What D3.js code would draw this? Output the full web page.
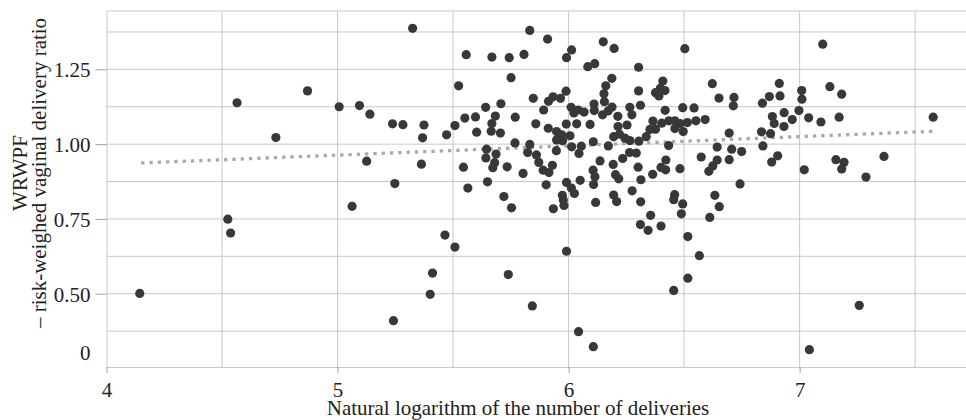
<!DOCTYPE html>
<html lang="en">
<head>
  <meta charset="UTF-8">
  <title>WRWPF vs log deliveries</title>
  <script src="https://d3js.org/d3.v7.min.js"></script>
  <style>
    body { margin: 0; background: #fff; }
    svg { display: block; }
    text { font-family: "Liberation Serif", "Times New Roman", serif; fill: #222; }
    .grid line { stroke: #c8c8c8; stroke-width: 1; }
    .axis path { stroke: #c8c8c8; }
    .axis line { stroke: #a0a0a0; }
    .axis text { font-size: 21px; }
    .title { font-size: 21px; }
  </style>
</head>
<body>
  <svg id="chart"></svg>
  <script>
    // x: natural log of deliveries, y: WRWPF
    const lnDeliveries = [
      4.144, 5.325, 5.557, 5.668, 5.743, 5.807, 5.832, 5.751, 5.524, 4.565,
      4.870, 5.007, 5.095, 5.140, 5.238, 5.283, 5.374, 5.368, 5.472, 5.508,
      5.551, 5.597, 5.641, 5.707, 5.683, 5.668, 5.665, 5.602, 5.705, 5.769,
      5.768, 4.733, 5.126, 5.363, 5.248, 5.545, 5.645, 5.642, 5.686, 5.680,
      5.672, 5.734, 5.803, 5.649, 5.564, 5.720, 5.823, 5.753, 5.063, 4.525,
      4.537, 5.465, 5.508, 5.411, 5.401, 5.739, 5.242, 5.843, 5.909, 6.013,
      5.991, 6.083, 6.113, 6.150, 5.847, 5.913, 5.933, 5.965, 5.989, 6.161,
      6.153, 6.155, 5.892, 5.858, 5.912, 5.948, 5.970, 5.990, 6.006, 6.011,
      6.023, 6.042, 6.067, 6.035, 6.093, 6.110, 6.111, 6.147, 6.107, 6.197,
      6.303, 6.503, 7.100, 6.187, 6.408, 6.397, 6.376, 6.391, 6.417, 6.303,
      6.622, 6.651, 6.716, 6.713, 6.912, 6.869, 6.915, 6.839, 7.009, 7.010,
      7.131, 7.182, 7.578, 6.171, 6.213, 6.188, 6.265, 6.274, 6.311, 6.214,
      6.253, 6.195, 6.220, 6.244, 6.265, 6.304, 6.336, 6.352, 6.365, 6.376,
      6.403, 6.434, 6.460, 6.483, 6.460, 6.496, 6.514, 6.494, 6.543, 6.551,
      6.591, 6.418, 5.832, 5.861, 5.871, 5.890, 5.915, 5.930, 5.947, 5.948,
      5.974, 6.013, 6.045, 6.055, 6.136, 6.106, 6.114, 6.108, 6.172, 6.193,
      6.203, 6.217, 6.234, 6.264, 6.293, 6.301, 6.313, 6.364, 6.400, 6.420,
      6.421, 6.433, 6.482, 6.459, 6.455, 6.494, 6.488, 6.516, 6.566, 6.516,
      6.455, 6.574, 6.607, 6.624, 6.643, 6.643, 6.695, 6.706, 6.695, 6.749,
      6.742, 6.633, 6.652, 6.611, 6.835, 6.874, 6.841, 6.905, 6.879, 6.882,
      6.890, 6.933, 6.932, 6.968, 6.997, 7.039, 7.092, 7.171, 7.020, 7.157,
      7.192, 7.182, 7.287, 7.365, 5.903, 5.973, 5.977, 5.980, 5.934, 5.991,
      6.012, 6.025, 6.050, 6.195, 6.208, 6.275, 6.312, 6.355, 6.311, 6.344,
      6.400, 5.991, 6.117, 6.043, 6.107, 7.042, 7.258
    ];
    const wrwpf = [
      0.501, 1.387, 1.299, 1.291, 1.289, 1.300, 1.380, 1.222, 1.195, 1.138,
      1.178, 1.125, 1.129, 1.100, 1.068, 1.065, 1.064, 1.021, 1.031, 1.062,
      1.087, 1.091, 1.123, 1.135, 1.094, 1.069, 1.043, 1.040, 1.037, 1.090,
      1.004, 1.022, 0.943, 0.933, 0.868, 0.923, 0.983, 0.954, 0.967, 0.938,
      0.921, 0.924, 0.902, 0.874, 0.853, 0.825, 0.972, 0.787, 0.792, 0.749,
      0.703, 0.696, 0.656, 0.569, 0.498, 0.564, 0.410, 0.459, 1.351, 1.315,
      1.289, 1.259, 1.269, 1.342, 1.153, 1.143, 1.158, 1.153, 1.177, 1.195,
      1.168, 1.142, 1.114, 1.068, 1.053, 1.042, 1.031, 1.067, 1.028, 1.123,
      1.104, 1.114, 1.107, 1.068, 1.066, 1.134, 1.112, 1.098, 1.008, 1.320,
      1.257, 1.319, 1.334, 1.220, 1.211, 1.187, 1.172, 1.161, 1.179, 1.178,
      1.202, 1.154, 1.156, 1.128, 1.203, 1.159, 1.161, 1.137, 1.179, 1.150,
      1.192, 1.167, 1.090, 1.111, 1.093, 1.124, 1.123, 1.098, 1.130, 1.059,
      1.064, 1.025, 1.033, 1.020, 1.012, 1.010, 1.025, 1.049, 1.077, 1.050,
      1.070, 1.078, 1.078, 1.069, 1.052, 1.042, 1.072, 1.122, 1.121, 1.078,
      1.082, 1.113, 0.999, 0.964, 0.939, 0.913, 0.905, 0.929, 0.978, 1.014,
      1.011, 0.991, 0.969, 0.993, 0.944, 0.913, 0.891, 0.865, 0.994, 0.932,
      0.898, 0.884, 0.952, 0.972, 0.970, 0.923, 0.881, 0.899, 0.922, 0.914,
      0.947, 0.995, 0.918, 0.831, 0.814, 0.800, 0.767, 0.691, 0.627, 0.552,
      0.511, 0.957, 0.909, 0.927, 0.947, 0.990, 1.037, 0.983, 0.948, 0.975,
      0.867, 0.829, 0.791, 0.755, 1.041, 1.035, 0.994, 0.961, 0.940, 1.092,
      1.069, 1.105, 1.059, 1.082, 1.112, 1.088, 1.074, 1.090, 0.914, 0.948,
      0.939, 0.917, 0.890, 0.959, 0.864, 0.829, 0.813, 0.795, 0.784, 0.872,
      0.853, 0.835, 0.879, 0.830, 0.808, 0.844, 0.807, 0.762, 0.731, 0.712,
      0.726, 0.642, 0.805, 0.373, 0.323, 0.313, 0.461
    ];

    // fitted trend line end points
    const trendX = [4.15, 7.58];
    const trendY = [0.937, 1.043];

    const xTicks = [4, 5, 6, 7];
    const yTicks = [0.307, 0.5, 0.75, 1.0, 1.25];
    const yTickLabels = ["0", "0.50", "0.75", "1.00", "1.25"];
    const xGrid = [4.5, 5, 5.5, 6, 6.5, 7, 7.5];
    const yGrid = [0.375, 0.5, 0.625, 0.75, 0.875, 1.0, 1.125, 1.25, 1.375];

    const width = 966, height = 420;
    const serif = '"Liberation Serif", "Times New Roman", serif';
    const svg = d3.select("#chart").attr("width", width).attr("height", height);

    const x = d3.scaleLinear().domain([4, 7.72]).range([106.5, 966]);
    const y = d3.scaleLinear().domain([0.255, 1.445]).range([367, 11]);

    // grid
    const grid = svg.append("g").attr("class", "grid");
    grid.selectAll(".gx")
      .data(xGrid)
      .join("line")
      .attr("x1", d => x(d)).attr("x2", d => x(d))
      .attr("y1", y.range()[0]).attr("y2", y.range()[1]);
    grid.selectAll(".gy")
      .data(yGrid.concat([y.domain()[1]]))
      .join("line")
      .attr("x1", x.range()[0]).attr("x2", x.range()[1])
      .attr("y1", d => y(d)).attr("y2", d => y(d));

    // axes
    const xAxis = svg.append("g")
      .attr("class", "axis")
      .attr("transform", `translate(0,${y.range()[0]})`)
      .call(d3.axisBottom(x).tickValues(xTicks).tickSize(6).tickSizeOuter(0).tickFormat(d3.format("d")))
      .attr("font-family", serif)
      .attr("font-size", 21);
    xAxis.selectAll("text").attr("dy", "1.0em");

    const yAxis = svg.append("g")
      .attr("class", "axis")
      .attr("transform", `translate(${x.range()[0]},0)`)
      .call(d3.axisLeft(y).tickValues(yTicks).tickSize(11).tickSizeOuter(0)
        .tickFormat((d, i) => yTickLabels[i]))
      .attr("font-family", serif)
      .attr("font-size", 21);
    yAxis.selectAll("text").attr("x", -16).attr("dy", "0.36em");
    // the "0" label has no tick mark
    yAxis.selectAll(".tick").filter(d => d === yTicks[0]).select("line").remove();

    // trend line
    svg.append("line")
      .attr("x1", x(trendX[0])).attr("y1", y(trendY[0]))
      .attr("x2", x(trendX[1])).attr("y2", y(trendY[1]))
      .attr("stroke", "#a9a9a9")
      .attr("stroke-width", 3.3)
      .attr("stroke-dasharray", "3.3,5");

    // points
    svg.append("g")
      .selectAll("circle")
      .data(d3.range(lnDeliveries.length))
      .join("circle")
      .attr("cx", i => x(lnDeliveries[i]))
      .attr("cy", i => y(wrwpf[i]))
      .attr("r", 4.6)
      .attr("fill", "#383838");

    // titles
    svg.append("text")
      .attr("class", "title")
      .attr("x", 518)
      .attr("y", 415)
      .attr("text-anchor", "middle")
      .text("Natural logarithm of the number of deliveries");

    const yTitle = svg.append("text")
      .attr("class", "title")
      .attr("transform", "translate(27,173) rotate(-90)")
      .attr("text-anchor", "middle");
    yTitle.append("tspan").attr("x", 0).attr("y", 0).text("WRWPF");
    yTitle.append("tspan").attr("x", 0).attr("y", 18.5).text("– risk-weighed vaginal delivery ratio");
  </script>
</body>
</html>
